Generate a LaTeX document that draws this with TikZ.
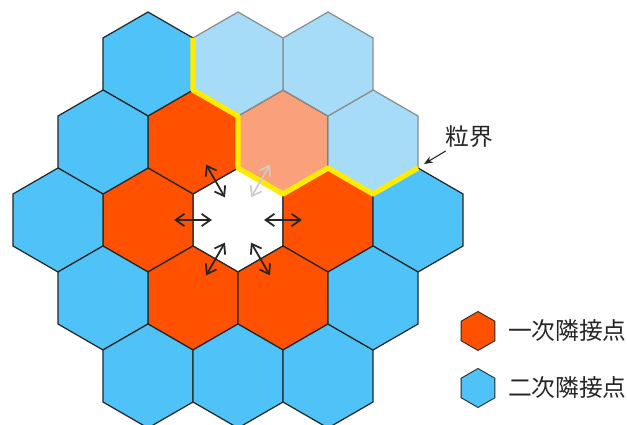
\documentclass[tikz,border=0pt]{standalone}
\usepackage{fontspec}
\newfontfamily\jpfont{Noto Sans CJK JP}
\usetikzlibrary{shapes.geometric,positioning,calc}
\usetikzlibrary{arrows.meta}

\definecolor{nbfirst}{RGB}{255,81,0}
\definecolor{nbsecond}{RGB}{79,195,247}
\definecolor{grainfirst}{RGB}{250,160,122}
\definecolor{grainsecond}{RGB}{166,220,247}
\definecolor{grainline}{RGB}{255,236,0}

\begin{document}
\begin{tikzpicture}[hexcell/.style={regular polygon, regular polygon sides=6,
                      shape border rotate=30, minimum size=2.08cm,
                      inner sep=0pt, outer sep=0pt, draw=black!85,
                      line width=0.7pt, on grid},
                    first/.style={hexcell, fill=nbfirst},
                    second/.style={hexcell, fill=nbsecond},
                    gfirst/.style={hexcell, fill=grainfirst},
                    gsecond/.style={hexcell, fill=grainsecond, draw=black!45},
                    hop/.style={{Straight Barb[length=5pt,width=7pt]}-{Straight Barb[length=5pt,width=7pt]},
                      line width=1pt, black!85},
                    boundary/.style={grainline, line width=3pt, line join=round},
                    tag/.style={font=\jpfont\fontsize{13.5}{16}\selectfont, text=black!85,
                      inner sep=1pt}]

  \useasboundingbox (-4.76,-4.1) rectangle (7.78,4.4);

  % centre and first neighbours
  \node[hexcell, fill=white] (o)                                  {};
  \node[first]   (a1) [right = 1.8cm of o]                         {};
  \node[gfirst]  (a2) [above right = 1.56cm and 0.9cm of o]        {};
  \node[first]   (a3) [above left = 1.56cm and 0.9cm of o]         {};
  \node[first]   (a4) [left = 1.8cm of o]                          {};
  \node[first]   (a5) [below left = 1.56cm and 0.9cm of o]         {};
  \node[first]   (a6) [below right = 1.56cm and 0.9cm of o]        {};

  % second neighbours
  \node[second]  (b1)  [right = 1.8cm of a1]                       {};
  \node[gsecond] (b2)  [right = 1.8cm of a2]                       {};
  \node[gsecond] (b3)  [above right = 1.56cm and 0.9cm of a2]      {};
  \node[gsecond] (b4)  [above left = 1.56cm and 0.9cm of a2]       {};
  \node[second]  (b5)  [above left = 1.56cm and 0.9cm of a3]       {};
  \node[second]  (b6)  [left = 1.8cm of a3]                        {};
  \node[second]  (b7)  [left = 1.8cm of a4]                        {};
  \node[second]  (b8)  [left = 1.8cm of a5]                        {};
  \node[second]  (b9)  [below left = 1.56cm and 0.9cm of a5]       {};
  \node[second]  (b10) [below right = 1.56cm and 0.9cm of a5]      {};
  \node[second]  (b11) [below right = 1.56cm and 0.9cm of a6]      {};
  \node[second]  (b12) [right = 1.8cm of a6]                       {};

  % grain boundary
  \draw[boundary] (b4.150) -- (b4.210) -- (b4.270) -- (a2.210) -- (a2.270)
                  -- (a2.330) -- (b2.270) -- (b2.330);

  \foreach \n in {a1,a3,a4,a5,a6}
    \draw[hop] ($(o)!0.29!(\n)$) -- ($(o)!0.71!(\n)$);
  \draw[hop, black!20] ($(o)!0.29!(a2)$) -- ($(o)!0.71!(a2)$);

  % label and legend
  \node[tag] (lb) [on grid, above right = 0.1cm and 1.92cm of b2] {粒界};
  \coordinate (gbtip) at ($(b2.330)+(0.12,0.08)$);
  \draw[-{Stealth[length=5pt,width=4pt]}, line width=0.6pt, black!85,
        shorten <=1pt] (lb) -- (gbtip);

  \node[first, minimum size=0.78cm, line width=0.5pt] (k1)
        [below right = 2.22cm and 1.2cm of b1] {};
  \node[second, minimum size=0.78cm, line width=0.5pt] (k2)
        [below = 1.14cm of k1] {};
  \node[tag, right = 0.22cm of k1] (t1) {一次隣接点};
  \node[tag, right = 0.22cm of k2] (t2) {二次隣接点};
\end{tikzpicture}
\end{document}
